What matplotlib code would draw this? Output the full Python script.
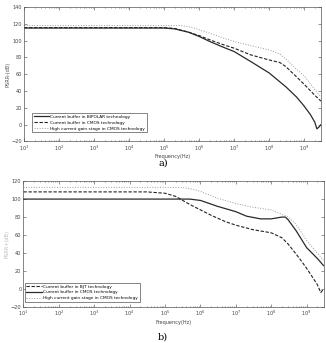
import numpy as np
import matplotlib
matplotlib.use("Agg")
import matplotlib.pyplot as plt
from matplotlib.ticker import LogLocator, NullFormatter

# ── data ──────────────────────────────────────────────────────────────────────
# panel a)
a_bip_f = [1e1, 1e5, 2e5, 5e5, 1e6, 2e6, 5e6, 1e7, 3e7, 1e8, 3e8, 6e8, 1e9, 1.5e9, 2e9, 2.3e9, 2.6e9, 3e9]
a_bip_v = [115, 115, 114, 110, 105, 99, 92, 87, 75, 61.5, 45, 33, 22, 12, 3, -5, -3, 0]

a_cmos_f = [1e1, 1e5, 2e5, 5e5, 1e6, 2e6, 5e6, 1e7, 3e7, 1e8, 2e8, 3e8, 6e8, 1e9, 2e9, 3e9]
a_cmos_v = [115.5, 115.5, 114.5, 110, 106, 101, 95, 91, 83, 77, 74, 69, 57, 48, 35, 28]

a_hg_f = [1e1, 3e5, 6e5, 1e6, 2e6, 5e6, 1e7, 3e7, 1e8, 2e8, 3e8, 6e8, 1e9, 2e9, 3e9]
a_hg_v = [118, 118, 116, 113, 109, 103, 99, 94, 89, 84, 78, 66, 58, 42, 33]

# panel b)
b_bjt_f = [1e1, 3e4, 1e5, 2e5, 5e5, 1e6, 2e6, 5e6, 1e7, 3e7, 1e8, 2e8, 3e8, 6e8, 1e9, 2e9, 2.5e9, 3e9]
b_bjt_v = [108, 108, 106.5, 103, 94, 88, 82, 75, 71, 66, 62.5, 57, 50, 35, 23, 5, -4, 0]

b_cmos_f = [1e1, 5e5, 1e6, 3e6, 1e7, 2e7, 5e7, 1e8, 2e8, 2.5e8, 3e8, 5e8, 1e9, 2e9, 3e9]
b_cmos_v = [100, 100, 98.5, 92, 86, 81, 78, 78, 80, 80, 77, 65, 46, 34, 26]

b_hg_f = [1e1, 3e5, 6e5, 1e6, 3e6, 1e7, 3e7, 1e8, 3e8, 5e8, 1e9, 2e9, 3e9]
b_hg_v = [113, 113, 111, 108.5, 101, 95, 91, 88, 80, 72, 54, 40, 32]

a_labels = ["Current buffer in BIPOLAR technology",
            "Current buffer in CMOS technology",
            "High current gain stage in CMOS technology"]
b_labels = ["Current buffer in BJT technology",
            "Current buffer in CMOS technology",
            "High current gain stage in CMOS technology"]

DARK = "#2a2a2a"
DOT = "#9a9a9a"
FS = 3.6
LFS = 3.1


def style_ax(ax, ylim, yticks):
    ax.set_xscale("log")
    ax.set_xlim(10, 3.1e9)
    ax.set_ylim(*ylim)
    ax.set_yticks(yticks)
    ax.set_xticks([10 ** k for k in range(1, 10)])
    ax.xaxis.set_minor_locator(LogLocator(base=10, subs=np.arange(2, 10), numticks=20))
    ax.xaxis.set_minor_formatter(NullFormatter())
    ax.tick_params(which="both", direction="in", top=True, right=True,
                   labelsize=FS, colors="#444444", width=0.4, pad=1.5)
    ax.tick_params(which="major", length=2)
    ax.tick_params(which="minor", length=1)
    for sp in ax.spines.values():
        sp.set_linewidth(0.5)
        sp.set_color("#555555")


def add_legend(ax, anchor):
    leg = ax.legend(loc="lower left", bbox_to_anchor=anchor, fontsize=LFS,
                    frameon=True, fancybox=False, edgecolor="#555555", framealpha=1,
                    handlelength=3.6, borderpad=0.35, labelspacing=0.45,
                    handletextpad=0.3, borderaxespad=0)
    leg.get_frame().set_linewidth(0.5)


fig = plt.figure(figsize=(3.26, 3.43), dpi=100, facecolor="white")

# ── panel a ──────────────────────────────────────────────────────────────────
ax1 = fig.add_axes([0.074, 0.5875, 0.912, 0.392])
ax1.plot(a_bip_f, a_bip_v, "-", color=DARK, lw=0.9, label=a_labels[0])
ax1.plot(a_cmos_f, a_cmos_v, "--", color="#222222", lw=0.8, dashes=(3, 1.5), label=a_labels[1])
ax1.plot(a_hg_f, a_hg_v, ":", color=DOT, lw=0.7, label=a_labels[2])
style_ax(ax1, (-20, 140), range(-20, 141, 20))
ax1.set_ylabel("PSRR-(dB)", fontsize=FS, color="#555555", labelpad=1)
ax1.set_xlabel("Frequency(Hz)", fontsize=FS, color="#444444", labelpad=1)
add_legend(ax1, (0.027, 0.07))
fig.text(0.5, 0.525, "a)", ha="center", va="center", fontsize=7, family="serif")

# ── panel b ──────────────────────────────────────────────────────────────────
ax2 = fig.add_axes([0.072, 0.105, 0.922, 0.367])
ax2.plot(b_bjt_f, b_bjt_v, "--", color="#222222", lw=0.8, dashes=(3, 1.5), label=b_labels[0])
ax2.plot(b_cmos_f, b_cmos_v, "-", color=DARK, lw=0.9, label=b_labels[1])
ax2.plot(b_hg_f, b_hg_v, ":", color=DOT, lw=0.7, label=b_labels[2])
style_ax(ax2, (-20, 120), range(-20, 121, 20))
ax2.set_ylabel("PSRR+(dB)", fontsize=FS, color="#bbbbbb", labelpad=1)
ax2.set_xlabel("Frequency(Hz)", fontsize=FS, color="#444444", labelpad=1)
add_legend(ax2, (0.005, 0.04))
fig.text(0.5, 0.018, "b)", ha="center", va="center", fontsize=7, family="serif")

fig.savefig("out.png", dpi=100, facecolor="white")
